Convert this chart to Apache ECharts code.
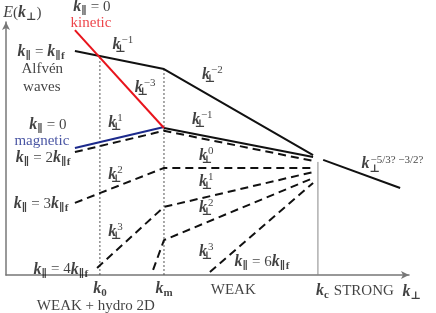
<!DOCTYPE html>
<html><head><meta charset="utf-8">
<script src="https://cdn.jsdelivr.net/npm/echarts@6/dist/echarts.min.js"></script>
<style>html,body{margin:0;padding:0;background:#fff}#c{width:436px;height:313px}</style>
</head><body><div id="c"></div>
<script>
// Schematic spectrum E(k_perp): points in arbitrary units (x: k_perp, y: E)
const kGuides = { k0: 23.3, km: 39.2, kc: 77.4 };
const alfvenLine   = [[17.1,88.5],[39.2,81.4],[76.2,47.4]];
const kineticLine  = [[17.1,96.8],[39.2,58.1]];
const magneticLine = [[17.1,50.2],[39.2,58.5]];
const mag2Line     = [[39.2,58.1],[76.2,46.6]];
const strongLine   = [[78.7,45.5],[97.8,34.4]];
const dash2k = [[17.1,48.6],[39.2,57.0],[76.2,45.1]];
const dash3k = [[17.1,28.5],[39.2,42.3],[76.2,42.3]];
const dash4k = [[22.6,2.8],[39.2,26.9],[76.2,40.7]];
const dash5k = [[36.5,2.0],[39.2,13.8],[76.2,38.3]];
const dash6k = [[50.6,1.2],[76.2,36.4]];
const guideTops = { k0: 87.0, km: 81.8, kc: 44.7 };

const K = (s) => '{k|k}{sub|' + s + '}';
const KP = (e) => '{k|k}{s0|⊥}{sup|' + e + '}';
const KPAR = (rhs) => '{k|k}{sub|∥}{t| = }' + rhs;
// [x, y, text, colour, align]
const labels = [
  [-0.7, 103.6, '{ki|E}{t|(}{k|k}{sub|⊥}{t|)}', '#111', 'left'],
  [21.3, 105.9, KPAR('{t|0}'), '#111', 'center'],
  [21.1, 99.6, '{t|kinetic}', '#e8141c', 'center'],
  [8.7, 88.3, KPAR('{k|k}{sub|∥f}'), '#111', 'center'],
  [9.0, 81.4, '{t|Alfvén}', '#111', 'center'],
  [8.9, 74.3, '{t|waves}', '#111', 'center'],
  [10.4, 59.3, KPAR('{t|0}'), '#111', 'center'],
  [8.9, 53.0, '{t|magnetic}', '#1c2a8c', 'center'],
  [9.2, 46.2, KPAR('{t|2}{k|k}{sub|∥f}'), '#111', 'center'],
  [8.7, 28.1, KPAR('{t|3}{k|k}{sub|∥f}'), '#111', 'center'],
  [13.6, 2.2, KPAR('{t|4}{k|k}{sub|∥f}'), '#111', 'center'],
  [63.5, 5.1, KPAR('{t|6}{k|k}{sub|∥f}'), '#111', 'center'],
  [29.0, 91.0, KP('−1'), '#111', 'center'],
  [34.5, 73.9, KP('−3'), '#111', 'center'],
  [51.2, 79.1, KP('−2'), '#111', 'center'],
  [27.2, 60.1, KP('1'), '#111', 'center'],
  [48.7, 61.3, KP('−1'), '#111', 'center'],
  [49.7, 47.0, KP('0'), '#111', 'center'],
  [49.7, 36.8, KP('1'), '#111', 'center'],
  [27.2, 39.5, KP('2'), '#111', 'center'],
  [49.7, 26.5, KP('2'), '#111', 'center'],
  [27.2, 17.0, KP('3'), '#111', 'center'],
  [49.7, 9.1, KP('3'), '#111', 'center'],
  [88.2, 43.8, KP('−5/3? −3/2?'), '#111', 'left'],
  [23.3, -5.5, K('0'), '#111', 'center'],
  [39.2, -5.5, K('m'), '#111', 'center'],
  [78.5, -6.2, K('c'), '#111', 'center'],
  [56.4, -5.9, '{t|WEAK}', '#111', 'center'],
  [88.8, -6.2, '{t|STRONG}', '#111', 'center'],
  [100.7, -6.6, '{k|k}{sub|⊥}', '#111', 'center'],
  [22.3, -12.3, '{t|WEAK + hydro 2D}', '#111', 'center']
];

const serif = "'Liberation Serif', 'DejaVu Serif', serif";
const rich = {
  t:   { fontFamily: serif, fontSize: 15, lineHeight: 20, verticalAlign: 'middle' },
  k:   { fontFamily: serif, fontSize: 16, fontStyle: 'italic', fontWeight: 'bold', lineHeight: 20, verticalAlign: 'middle' },
  ki:  { fontFamily: serif, fontSize: 16, fontStyle: 'italic', lineHeight: 20, verticalAlign: 'middle' },
  sub: { fontFamily: serif, fontSize: 11, fontWeight: 'bold', lineHeight: 10, verticalAlign: 'bottom' },
  s0:  { fontFamily: serif, fontSize: 11, fontWeight: 'bold', lineHeight: 10, verticalAlign: 'bottom', width: 0 },
  sup: { fontFamily: serif, fontSize: 11, lineHeight: 10, verticalAlign: 'top', padding: [0, 0, 0, 1] }
};

function solid(data, color) {
  return { type: 'line', data, symbol: 'none', silent: true, animation: false,
    lineStyle: { color, width: 2 }, z: 3 };
}
function dashed(data) {
  return { type: 'line', data, symbol: 'none', silent: true, animation: false,
    lineStyle: { color: '#111', width: 2, type: [8, 5] }, z: 2 };
}
function guide(x, top, style) {
  return { type: 'line', data: [[x, 0], [x, top]], symbol: 'none', silent: true, animation: false,
    lineStyle: { color: style === 'solid' ? '#888' : '#555', width: 1, type: style === 'solid' ? 'solid' : [2, 2] }, z: 1 };
}

const chart = echarts.init(document.getElementById('c'), null, { renderer: 'canvas' });
chart.setOption({
  backgroundColor: '#fff',
  animation: false,
  grid: { left: 6, right: 27, top: 22, bottom: 38 },
  xAxis: { type: 'value', min: 0, max: 100,
    axisLine: { lineStyle: { color: '#777', width: 1.5 }, symbol: ['none', 'arrow'], symbolSize: [6, 8] },
    axisTick: { show: false }, axisLabel: { show: false }, splitLine: { show: false } },
  yAxis: { type: 'value', min: 0, max: 100,
    axisLine: { lineStyle: { color: '#777', width: 1.5 }, symbol: ['none', 'arrow'], symbolSize: [6, 8] },
    axisTick: { show: false }, axisLabel: { show: false }, splitLine: { show: false } },
  series: [
    guide(kGuides.k0, guideTops.k0, 'dot'),
    guide(kGuides.km, guideTops.km, 'dot'),
    guide(kGuides.kc, guideTops.kc, 'solid'),
    dashed(dash2k), dashed(dash3k), dashed(dash4k), dashed(dash5k), dashed(dash6k),
    solid(alfvenLine, '#111'),
    solid(mag2Line, '#111'),
    solid(strongLine, '#111'),
    solid(magneticLine, '#1c2a8c'),
    solid(kineticLine, '#e8141c'),
    { type: 'scatter', symbolSize: 0, silent: true, animation: false, clip: false, z: 5,
      data: labels.map(l => ({ value: [l[0], l[1]],
        label: { show: true, position: 'inside', formatter: l[2], color: l[3], align: l[4], verticalAlign: 'middle', rich } })) }
  ]
});
</script></body></html>
